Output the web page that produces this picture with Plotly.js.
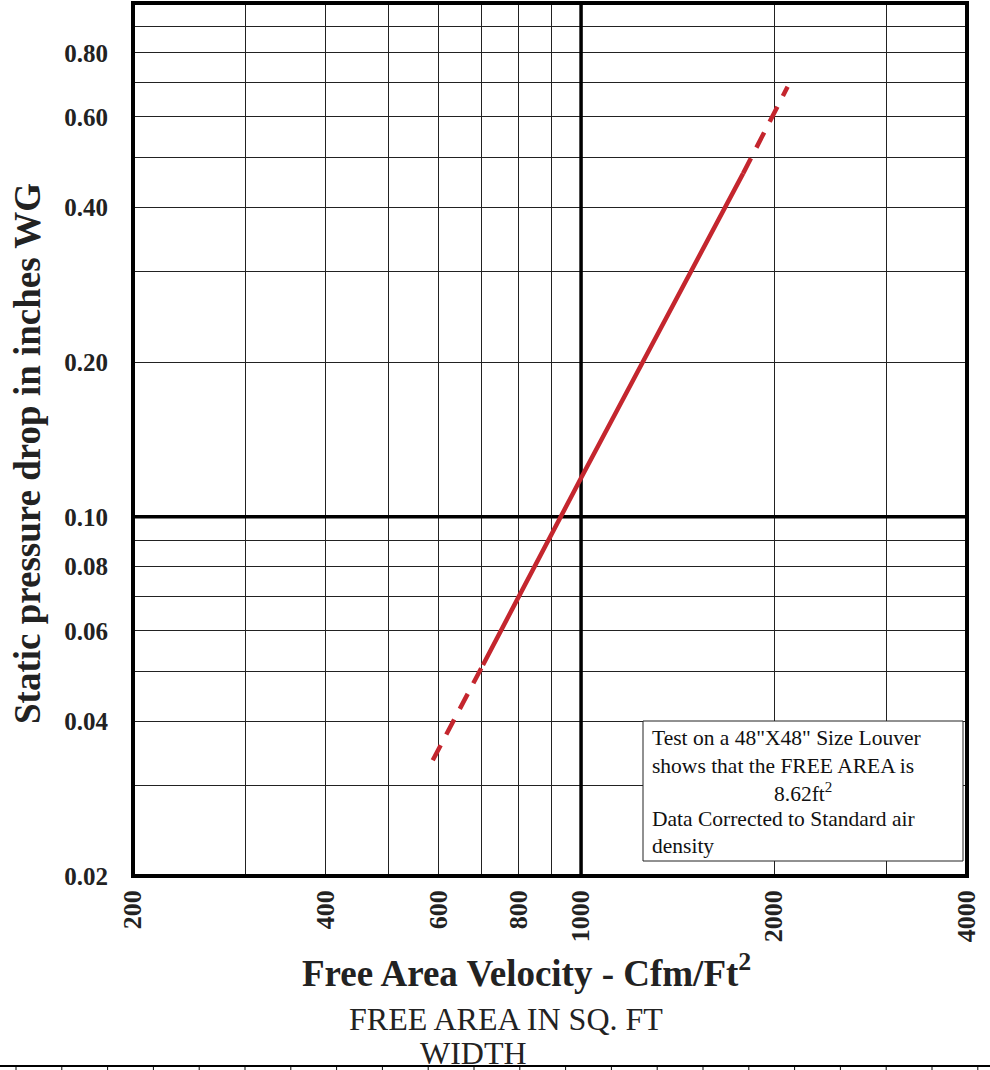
<!DOCTYPE html>
<html>
<head>
<meta charset="utf-8">
<script src="https://cdn.plot.ly/plotly-3.0.1.min.js"></script>
<style>
  html, body { margin: 0; padding: 0; background: #ffffff; }
  #chart { width: 990px; height: 1070px; }
</style>
</head>
<body>
<div id="chart"></div>
<script>
// ---------------- data ----------------
const velocityDashLow  = [587, 703];
const pressureDashLow  = [0.0336, 0.0515];
const velocitySolid    = [703, 1000, 1790];
const pressureSolid    = [0.0515, 0.119, 0.466];
const velocityDashHigh = [1790, 2100];
const pressureDashHigh = [0.466, 0.687];

const xTickVals      = [200, 400, 600, 800, 1000, 2000, 4000];
const xTickText      = ['200', '400', '600', '800', '1000', '2000', '4000'];
const xMinorGridVals = [300, 500, 700, 900, 3000];
const yTickVals      = [0.02, 0.04, 0.06, 0.08, 0.1, 0.2, 0.4, 0.6, 0.8];
const yTickText      = ['0.02', '0.04', '0.06', '0.08', '0.10', '0.20', '0.40', '0.60', '0.80'];
const yMinorGridVals = [0.03, 0.05, 0.07, 0.09, 0.3, 0.5, 0.7, 0.9];

const majorVelocity = 1000;
const majorPressure = 0.1;
const xRange = [200, 4000];
const yRange = [0.02, 1.0];

const noteLines = [
  'Test on a 48"X48" Size Louver',
  'shows that the FREE AREA is',
  '8.62ft<sup>2</sup>',
  'Data Corrected to Standard air',
  'density'
];

// ---------------- layout helpers ----------------
const W = 990, H = 1070;
const L = 133, R = 967, T = 3, B = 876;
const px = x => (x - L) / (R - L);
const py = y => (B - y) / (B - T);

const serif = 'Liberation Serif, Times New Roman, serif';
const red = '#c4262e';

const traces = [
  { x: [majorVelocity, majorVelocity], y: yRange, mode: 'lines',
    line: { color: '#000', width: 3.5 }, hoverinfo: 'skip', showlegend: false },
  { x: xRange, y: [majorPressure, majorPressure], mode: 'lines',
    line: { color: '#000', width: 3.5 }, hoverinfo: 'skip', showlegend: false },
  { x: velocityDashLow, y: pressureDashLow, mode: 'lines',
    line: { color: red, width: 4.5, dash: '17px,12px' }, showlegend: false },
  { x: velocitySolid, y: pressureSolid, mode: 'lines',
    line: { color: red, width: 4.5 }, showlegend: false },
  { x: velocityDashHigh, y: pressureDashHigh, mode: 'lines',
    line: { color: red, width: 4.5, dash: '17px,12px' }, showlegend: false }
];

const shapes = [
  // plot border
  { type: 'rect', xref: 'paper', yref: 'paper', x0: 0, x1: 1, y0: 0, y1: 1,
    line: { color: '#000', width: 4 }, layer: 'above' },
  // note box
  { type: 'rect', xref: 'paper', yref: 'paper', x0: px(643), x1: px(963), y0: py(861), y1: py(721),
    line: { color: '#222', width: 1 }, fillcolor: '#ffffff', layer: 'above' },
  // bottom ruler line
  { type: 'line', xref: 'paper', yref: 'paper', x0: px(0), x1: px(990), y0: py(1066), y1: py(1066),
    line: { color: '#000', width: 2 } }
];
for (let k = 0; k <= 21; k++) {
  const xp = 16 + 45.8 * k;
  shapes.push({ type: 'line', xref: 'paper', yref: 'paper', x0: px(xp), x1: px(xp),
    y0: py(1066), y1: py(1071), line: { color: '#000', width: 1 } });
}

const noteFont = { family: serif, size: 21.5, color: '#111' };
const noteY = [738, 766, 792, 819, 846];
const annotations = noteLines.map((t, i) => (i === 2 ?
  { xref: 'paper', yref: 'paper', x: px(803), y: py(noteY[i]), xanchor: 'center', yanchor: 'middle',
    showarrow: false, text: t, font: noteFont } :
  { xref: 'paper', yref: 'paper', x: px(650), y: py(noteY[i]), xanchor: 'left', yanchor: 'middle',
    showarrow: false, text: t, font: noteFont }));

annotations.push(
  { xref: 'paper', yref: 'paper', x: px(526), y: py(970), xanchor: 'center', yanchor: 'middle',
    showarrow: false, text: '<b>Free Area Velocity - Cfm/Ft<sup>2</sup></b>',
    font: { family: serif, size: 37, color: '#222' } },
  { xref: 'paper', yref: 'paper', x: px(506), y: py(1019), xanchor: 'center', yanchor: 'middle',
    showarrow: false, text: 'FREE AREA IN SQ. FT',
    font: { family: serif, size: 32, color: '#222' } },
  { xref: 'paper', yref: 'paper', x: px(473), y: py(1053), xanchor: 'center', yanchor: 'middle',
    showarrow: false, text: 'WIDTH',
    font: { family: serif, size: 32, color: '#222' } },
  { xref: 'paper', yref: 'paper', x: px(28), y: py(454), xanchor: 'center', yanchor: 'middle',
    showarrow: false, textangle: -90, text: '<b>Static pressure drop in inches WG</b>',
    font: { family: serif, size: 37, color: '#222' } }
);

const layout = {
  width: W, height: H,
  margin: { l: L, r: W - R, t: T, b: H - B, pad: 0 },
  paper_bgcolor: '#ffffff', plot_bgcolor: '#ffffff',
  showlegend: false,
  xaxis: {
    type: 'log', range: [Math.log10(xRange[0]), Math.log10(xRange[1])],
    tickmode: 'array', tickvals: xTickVals, ticktext: xTickText,
    tickangle: -90, ticks: '', ticklabelstandoff: 8,
    showgrid: true, gridcolor: '#222', gridwidth: 1,
    minor: { tickmode: 'array', tickvals: xMinorGridVals, showgrid: true,
             gridcolor: '#222', gridwidth: 1, ticks: '' },
    showline: false, zeroline: false,
    tickfont: { family: serif, size: 26, color: '#222', weight: 'bold' }
  },
  yaxis: {
    type: 'log', range: [Math.log10(yRange[0]), Math.log10(yRange[1])],
    tickmode: 'array', tickvals: yTickVals, ticktext: yTickText,
    ticks: '', ticklabelstandoff: 24,
    showgrid: true, gridcolor: '#222', gridwidth: 1,
    minor: { tickmode: 'array', tickvals: yMinorGridVals, showgrid: true,
             gridcolor: '#222', gridwidth: 1, ticks: '' },
    showline: false, zeroline: false,
    tickfont: { family: serif, size: 25, color: '#222', weight: 'bold' }
  },
  shapes: shapes,
  annotations: annotations
};

Plotly.newPlot('chart', traces, layout, { staticPlot: true, displayModeBar: false });
</script>
</body>
</html>
